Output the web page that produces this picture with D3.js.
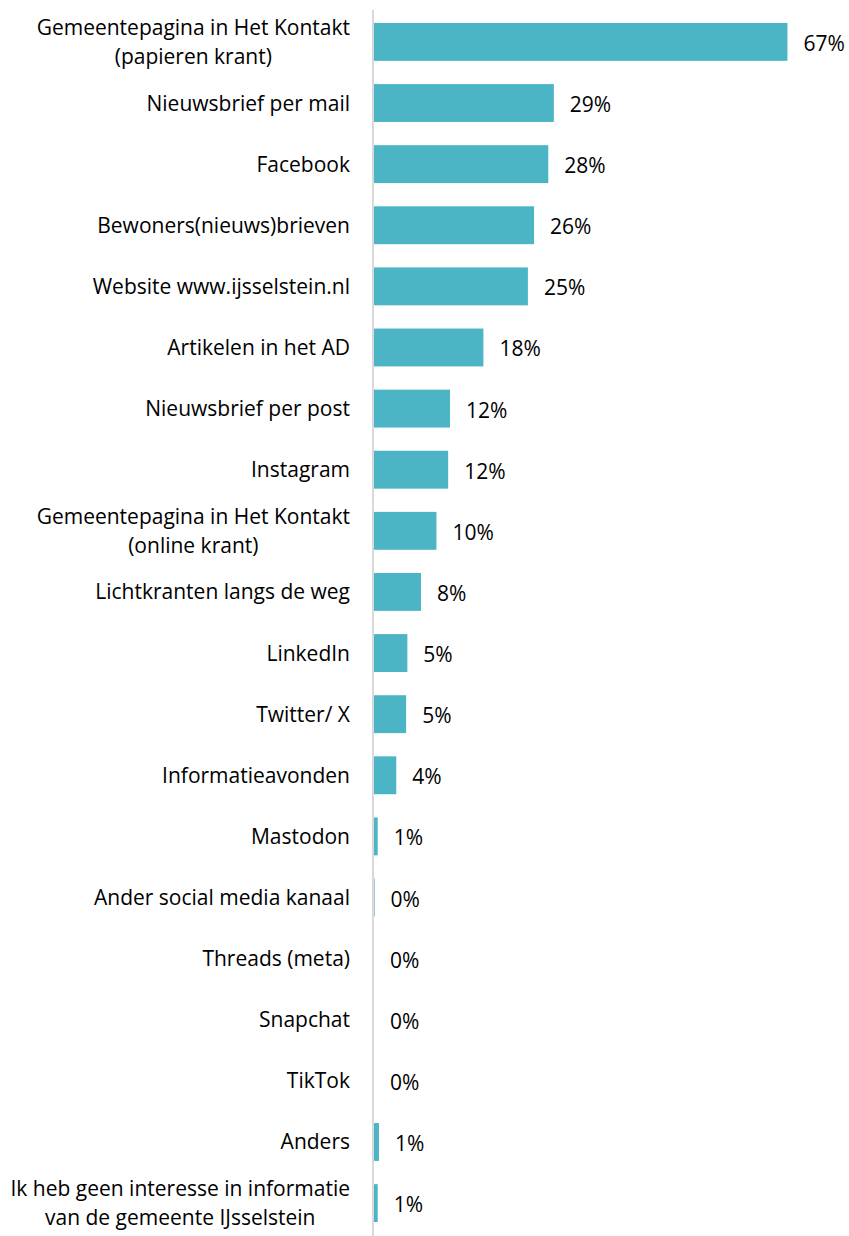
<html>
  <head>
    <script src="https://d3js.org/d3.v7.min.js"></script>
    <style>
      body { margin: 0; background: #fff; }
      text { font-family: "Open Sans", "Noto Sans", sans-serif; fill: #000; }
    </style>
  </head>
  <body>
    <div id="dataviz"></div>
    <script>
      // categories (label lines) and share of respondents in %
      const categories = [
        ["Gemeentepagina in Het Kontakt", "(papieren krant)"],
        ["Nieuwsbrief per mail"],
        ["Facebook"],
        ["Bewoners(nieuws)brieven"],
        ["Website www.ijsselstein.nl"],
        ["Artikelen in het AD"],
        ["Nieuwsbrief per post"],
        ["Instagram"],
        ["Gemeentepagina in Het Kontakt", "(online krant)"],
        ["Lichtkranten langs de weg"],
        ["LinkedIn"],
        ["Twitter/ X"],
        ["Informatieavonden"],
        ["Mastodon"],
        ["Ander social media kanaal"],
        ["Threads (meta)"],
        ["Snapchat"],
        ["TikTok"],
        ["Anders"],
        ["Ik heb geen interesse in informatie", "van de gemeente IJsselstein"]
      ];
      const values = [66.9, 29.1, 28.2, 25.9, 24.9, 17.7, 12.3, 12.0, 10.1, 7.6,
                      5.4, 5.2, 3.6, 0.6, 0.1, 0, 0, 0, 0.8, 0.6];

      const data = categories.map((c, i) => ({ idx: i, lines: c, value: values[i] }));

      var width = 849, height = 1236;
      var fs = 21, lineGap = 29, labelRight = 350;

      var svg = d3.select("#dataviz")
        .append("svg")
          .attr("width", width)
          .attr("height", height);

      var x = d3.scaleLinear()
        .domain([0, 100])
        .range([374, 992]);

      var y = d3.scaleBand()
        .domain(data.map(d => d.idx))
        .range([4, 1241])
        .paddingInner(0.38)
        .paddingOuter(0.31);

      // bars
      svg.selectAll("rect.bar")
        .data(data)
        .enter().append("rect")
          .attr("class", "bar")
          .attr("x", x(0))
          .attr("y", d => y(d.idx))
          .attr("width", d => x(d.value) - x(0))
          .attr("height", y.bandwidth())
          .attr("fill", "#4bb5c5");

      // vertical axis line
      svg.append("line")
        .attr("x1", 373).attr("x2", 373)
        .attr("y1", 10).attr("y2", height)
        .attr("stroke", "#d9d9d9")
        .attr("stroke-width", 2);

      // category labels: block right-aligned, lines centred within block
      var labels = svg.selectAll("text.cat")
        .data(data)
        .enter().append("text")
          .attr("class", "cat")
          .attr("font-size", fs)
          .attr("y", d => y(d.idx) + y.bandwidth() / 2);

      labels.each(function(d) {
        var t = d3.select(this);
        var n = d.lines.length;
        var spans = d.lines.map((l, j) => t.append("tspan")
          .attr("dy", j === 0 ? 7.5 - (n - 1) * lineGap / 2 : lineGap)
          .text(l));
        var maxW = d3.max(spans, s => s.node().getComputedTextLength());
        spans.forEach(s => {
          s.attr("text-anchor", "middle").attr("x", labelRight - maxW / 2);
        });
      });

      // value labels
      svg.selectAll("text.val")
        .data(data)
        .enter().append("text")
          .attr("class", "val")
          .attr("font-size", fs)
          .attr("x", d => x(d.value) + 16)
          .attr("y", d => y(d.idx) + y.bandwidth() / 2)
          .attr("dy", 9)
          .text(d => Math.round(d.value) + "%");
    </script>
  </body>
</html>
